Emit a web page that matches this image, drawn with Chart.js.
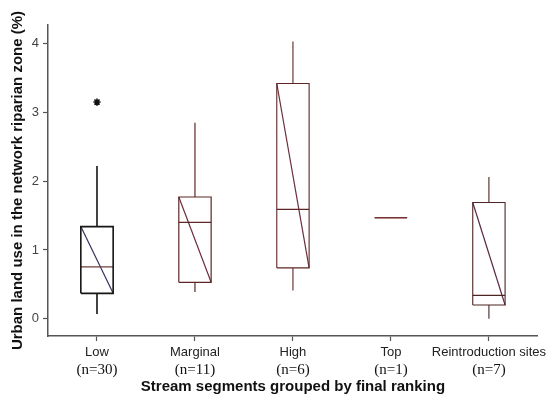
<!DOCTYPE html>
<html>
<head>
<meta charset="utf-8">
<script src="https://cdn.jsdelivr.net/npm/chart.js@4"></script>
<style>
  html, body { margin: 0; padding: 0; background: #fff; }
  #wrap { width: 551px; height: 394px; }
</style>
</head>
<body>
<div id="wrap"><canvas id="boxChart"></canvas></div>
<script>
// Urban land use per ranking group (box plot: whiskers, quartiles, median)
const grupos = ['Low', 'Marginal', 'High', 'Top', 'Reintroduction sites'];
const amostras = ['(n=30)', '(n=11)', '(n=6)', '(n=1)', '(n=7)'];
const minimos = [0.07, 0.39, 0.41, 1.47, 0.00];
const quartil1 = [0.37, 0.53, 0.74, 1.47, 0.20];
const medianas = [0.755, 1.40, 1.59, 1.47, 0.34];
const quartil3 = [1.34, 1.77, 3.42, 1.47, 1.69];
const maximos = [2.22, 2.85, 4.03, 1.47, 2.06];
const outliers = [{ x: 0, y: 3.15 }];
const yTicks = [0, 1, 2, 3, 4];

const corCaixa = ['#151515', '#5e2626', '#5e2626', '#7a3434', '#4e2424'];
const corMediana = ['#6e3c3c', '#5e2626', '#5e2626', '#7a3434', '#4e2424'];
const corDiagonal = ['#3c2f62', '#6a2e3e', '#6a2e3e', '#7a3434', '#5a2a44'];
const largura = [1.6, 1.2, 1.1, 1.4, 1.1];
const meia = 0.165; // half box width, in category units

function linha(pontos, cor, esp) {
  return {
    type: 'scatter',
    data: pontos,
    showLine: true,
    borderColor: cor,
    borderWidth: esp,
    pointRadius: 0,
    tension: 0,
    fill: false
  };
}

const datasets = [];
grupos.forEach((g, i) => {
  const esp = largura[i];
  // caixa
  datasets.push(linha([
    { x: i - meia, y: quartil1[i] }, { x: i + meia, y: quartil1[i] },
    { x: i + meia, y: quartil3[i] }, { x: i - meia, y: quartil3[i] },
    { x: i - meia, y: quartil1[i] }
  ], corCaixa[i], esp));
  // bigodes
  datasets.push(linha([{ x: i, y: quartil3[i] }, { x: i, y: maximos[i] }], corCaixa[i], esp));
  datasets.push(linha([{ x: i, y: quartil1[i] }, { x: i, y: minimos[i] }], corCaixa[i], esp));
  // mediana
  datasets.push(linha([{ x: i - meia, y: medianas[i] }, { x: i + meia, y: medianas[i] }], corMediana[i], 1.2));
  // diagonal
  datasets.push(linha([{ x: i - meia, y: quartil3[i] }, { x: i + meia, y: quartil1[i] }], corDiagonal[i], 1.2));
});

// valor atípico (asterisco)
datasets.push({
  type: 'scatter',
  data: outliers,
  pointStyle: 'star',
  pointRadius: 3.6,
  borderColor: '#111',
  borderWidth: 1.6,
  backgroundColor: '#111'
});

new Chart(document.getElementById('boxChart'), {
  type: 'scatter',
  data: { datasets },
  options: {
    responsive: true,
    maintainAspectRatio: false,
    animation: false,
    layout: { padding: { top: 25, right: 10, left: 0, bottom: 0 } },
    plugins: { legend: { display: false }, tooltip: { enabled: false } },
    scales: {
      x: {
        type: 'linear',
        position: 'bottom',
        min: -0.5,
        max: 4.5,
        afterBuildTicks: s => { s.ticks = grupos.map((g, i) => ({ value: i })); },
        afterFit: s => { s.height = 24; },
        border: { color: '#555', width: 1.5 },
        grid: { drawOnChartArea: false, tickLength: 5, color: '#555', tickWidth: 1.2 },
        ticks: {
          callback: v => grupos[v],
          color: '#222',
          padding: 4,
          maxRotation: 0,
          autoSkip: false,
          font: { family: 'Liberation Sans, Arial, sans-serif', size: 13 }
        }
      },
      x2: {
        type: 'linear',
        position: 'bottom',
        min: -0.5,
        max: 4.5,
        afterBuildTicks: s => { s.ticks = amostras.map((a, i) => ({ value: i })); },
        afterFit: s => { s.height = 34; },
        border: { display: false },
        grid: { display: false, drawTicks: false },
        ticks: {
          callback: v => amostras[v],
          color: '#111',
          padding: 2,
          maxRotation: 0,
          autoSkip: false,
          font: { family: 'Liberation Serif, Times New Roman, serif', size: 15, lineHeight: 1.1 }
        },
        title: {
          display: true,
          text: 'Stream segments grouped by final ranking',
          color: '#111',
          padding: { top: 0, bottom: 0 },
          font: { family: 'Liberation Sans, Arial, sans-serif', size: 15, weight: 'bold', lineHeight: 1.0 }
        }
      },
      y: {
        min: -0.25,
        max: 4.27,
        afterBuildTicks: s => { s.ticks = yTicks.map(v => ({ value: v })); },
        afterFit: s => { s.width = 48; },
        border: { color: '#555', width: 1.5 },
        grid: { drawOnChartArea: false, tickLength: 5, color: '#555', tickWidth: 1.2 },
        ticks: {
          color: '#444',
          padding: 4,
          font: { family: 'Liberation Sans, Arial, sans-serif', size: 13 }
        },
        title: {
          display: true,
          text: 'Urban land use in the network riparian zone (%)',
          color: '#111',
          padding: { top: 9, bottom: 2 },
          font: { family: 'Liberation Sans, Arial, sans-serif', size: 15, weight: 'bold' }
        }
      }
    }
  }
});
</script>
</body>
</html>
